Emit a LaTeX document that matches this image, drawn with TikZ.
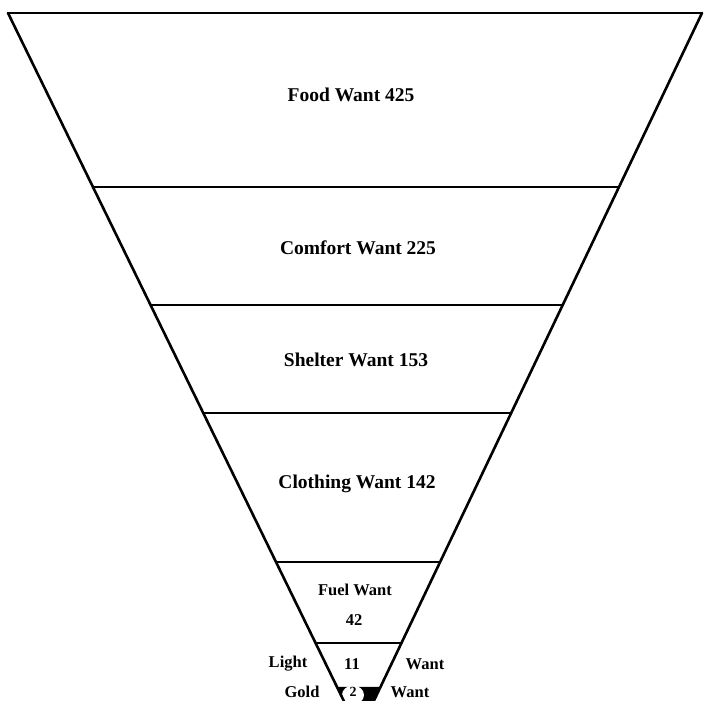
\documentclass[tikz,border=0pt]{standalone}
\usepackage{fontspec}
\setmainfont{Liberation Serif}
\usetikzlibrary{calc}

\begin{document}
\begin{tikzpicture}[
		x=1pt, y=-1pt,
		% Outline of the funnel and its dividing bars
		edge/.style={line width=2.6pt, line cap=round, line join=round},
		bar/.style={line width=1.8pt},
		% Typography
		wantlabel/.style={font=\bfseries\fontsize{19.5}{22}\selectfont},
		smalllabel/.style={font=\bfseries\fontsize{16.5}{19}\selectfont}
		]
		
		\useasboundingbox (0,0) rectangle (704,701);
		
		% =========================================================================
		% FUNNEL CORNERS
		% =========================================================================
		\coordinate (TL) at (8,13);
		\coordinate (TR) at (702,13);
		\coordinate (A) at (359,732);
		
		% =========================================================================
		% BOTTOM CELL (black with a white oval)
		% =========================================================================
		\begin{scope}
			\clip (0,0) rectangle (704,701);
			\fill[black] ($(TL)!0.9374!(A)$) -- ($(TR)!0.9374!(A)$) -- (A) -- cycle;
		\end{scope}
		\fill[white] (353,695) ellipse (11pt and 9.5pt);
		
		% =========================================================================
		% OUTLINE AND BARS
		% =========================================================================
		\draw[edge] (TL) -- (TR);
		\draw[edge] (TL) -- ($(TL)!0.9569!(A)$);
		\draw[edge] (TR) -- ($(TR)!0.9569!(A)$);
		
		\draw[bar] ($(TL)!0.2420!(A)$) -- ($(TR)!0.2420!(A)$);
		\draw[bar] ($(TL)!0.4061!(A)$) -- ($(TR)!0.4061!(A)$);
		\draw[bar] ($(TL)!0.5563!(A)$) -- ($(TR)!0.5563!(A)$);
		\draw[bar] ($(TL)!0.7636!(A)$) -- ($(TR)!0.7636!(A)$);
		\draw[bar] ($(TL)!0.8762!(A)$) -- ($(TR)!0.8762!(A)$);
		
		% =========================================================================
		% LABELS
		% =========================================================================
		\node[wantlabel] (food) at (351,95) {Food Want 425};
		\node[wantlabel] (comfort) at (358,248) {Comfort Want 225};
		\node[wantlabel] (shelter) at (356,360) {Shelter Want 153};
		\node[wantlabel] (clothing) at (357,484) {Clothing Want 142};
		
		\node[smalllabel] (fuel) at (355,590) {Fuel Want};
		\node[smalllabel] (fuelnum) at (354,620) {42};
		
		\node[smalllabel] (light) at (288,664) {Light};
		\node[smalllabel] (lightnum) at (352,664) {11};
		\node[smalllabel] (lightwant) at (425,664) {Want};
		
		\node[smalllabel] (gold) at (302,692) {Gold};
		\node[smalllabel, font=\bfseries\fontsize{14}{16}\selectfont, inner sep=0pt] (goldnum) at (353,692) {2};
		\node[smalllabel] (goldwant) at (410,692) {Want};
		
	\end{tikzpicture}
\end{document}
